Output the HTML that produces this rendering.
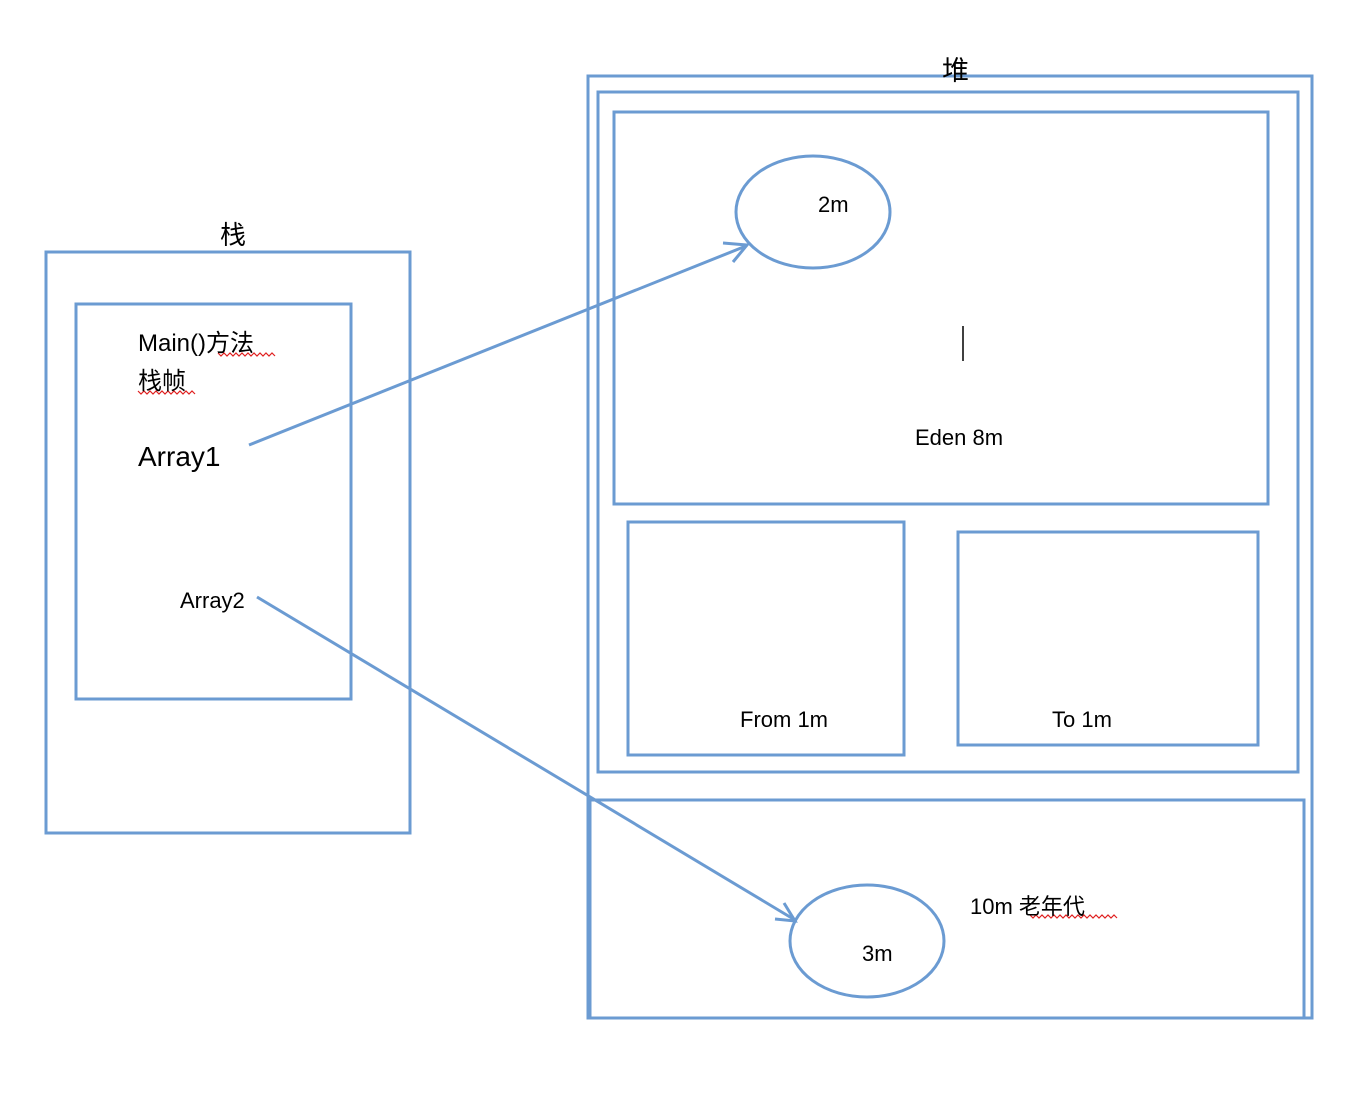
<!DOCTYPE html>
<html><head><meta charset="utf-8"><style>
html,body{margin:0;padding:0;background:#fff;}
svg{display:block;}
text{font-family:"Liberation Sans","Noto Sans CJK SC",sans-serif;fill:#000;}
</style></head><body>
<svg width="1364" height="1094" viewBox="0 0 1364 1094" xmlns="http://www.w3.org/2000/svg">
<g fill="none" stroke="#6b9bd2" stroke-width="3">
<rect x="46" y="252" width="364" height="581"/>
<rect x="76" y="304" width="275" height="395"/>
<rect x="588" y="76" width="724" height="942"/>
<rect x="598" y="92" width="700" height="680"/>
<rect x="614" y="112" width="654" height="392"/>
<rect x="628" y="522" width="276" height="233"/>
<rect x="958" y="532" width="300" height="213"/>
<rect x="590" y="800" width="714" height="218"/>
<ellipse cx="813" cy="212" rx="77" ry="56"/>
<ellipse cx="867" cy="941" rx="77" ry="56"/>
<line x1="249" y1="445" x2="746" y2="246"/>
<polyline points="723,243 747,245 733,262"/>
<line x1="257" y1="597" x2="795" y2="920"/>
<polyline points="784,903 795,921 775,919"/>
</g>
<line x1="963" y1="326" x2="963" y2="361" stroke="#000" stroke-width="1.5"/>
<g stroke="#e02020" stroke-width="1.2" fill="none">
<polyline points="218,353 221,356 224,353 227,356 230,353 233,356 236,353 239,356 242,353 245,356 248,353 251,356 254,353 257,356 260,353 263,356 266,353 269,356 272,353 275,356"/>
<polyline points="138,391 141,394 144,391 147,394 150,391 153,394 156,391 159,394 162,391 165,394 168,391 171,394 174,391 177,394 180,391 183,394 186,391 189,394 192,391 195,394"/>
<polyline points="1030,915 1033,918 1036,915 1039,918 1042,915 1045,918 1048,915 1051,918 1054,915 1057,918 1060,915 1063,918 1066,915 1069,918 1072,915 1075,918 1078,915 1081,918 1084,915 1087,918 1090,915 1093,918 1096,915 1099,918 1102,915 1105,918 1108,915 1111,918 1114,915 1117,918"/>
</g>
<text x="942" y="80" font-size="27">堆</text>
<text x="220" y="244" font-size="26">栈</text>
<text x="138" y="351" font-size="24">Main()方法</text>
<text x="138" y="389" font-size="24">栈帧</text>
<text x="138" y="466" font-size="28">Array1</text>
<text x="180" y="608" font-size="22">Array2</text>
<text x="818" y="212" font-size="22">2m</text>
<text x="915" y="445" font-size="22">Eden 8m</text>
<text x="740" y="727" font-size="22">From 1m</text>
<text x="1052" y="727" font-size="22">To 1m</text>
<text x="970" y="914" font-size="22">10m 老年代</text>
<text x="862" y="961" font-size="22">3m</text>
</svg>
</body></html>
